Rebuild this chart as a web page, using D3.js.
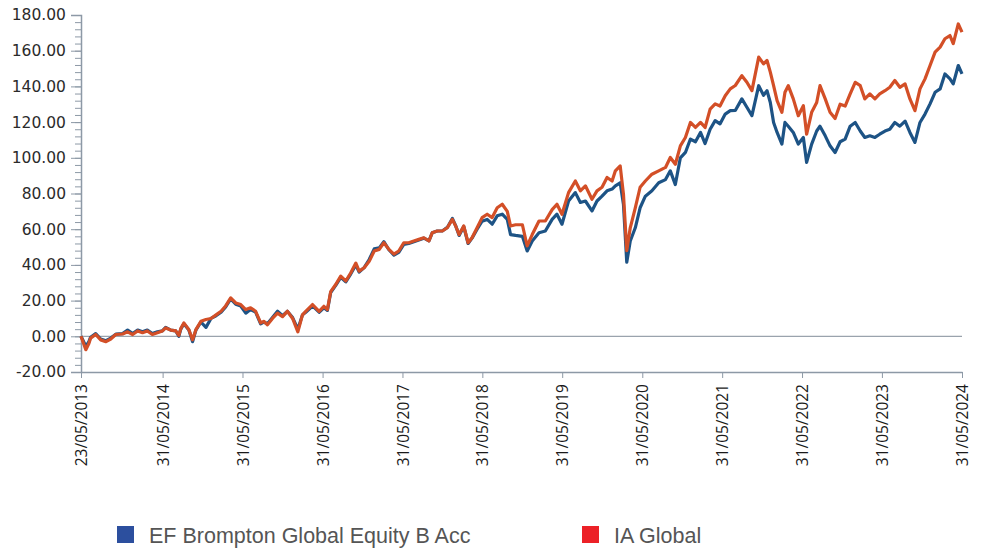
<!DOCTYPE html>
<html>
<head>
<meta charset="utf-8">
<title>EF Brompton Global Equity vs IA Global</title>
<script src="https://cdn.jsdelivr.net/npm/d3@7"></script>
<style>
  body { margin: 0; background: #ffffff; }
  #chart { width: 984px; height: 549px; }
</style>
</head>
<body>
<div id="chart"></div>
<script>
const dates = [
  "2013-05-23", "2013-06-14", "2013-06-28", "2013-07-06", "2013-07-29", "2013-08-21", "2013-09-14", "2013-10-06",
  "2013-10-29", "2013-11-29", "2013-12-22", "2014-01-14", "2014-02-06", "2014-02-28", "2014-03-22", "2014-04-14",
  "2014-05-07", "2014-05-30", "2014-06-14", "2014-07-07", "2014-07-30", "2014-08-13", "2014-08-22", "2014-09-05",
  "2014-09-28", "2014-10-15", "2014-10-30", "2014-11-22", "2014-12-15", "2015-01-07", "2015-01-30", "2015-02-22",
  "2015-03-15", "2015-04-07", "2015-04-30", "2015-05-23", "2015-06-15", "2015-07-07", "2015-07-30", "2015-08-22",
  "2015-09-05", "2015-09-22", "2015-10-15", "2015-11-07", "2015-11-30", "2015-12-22", "2016-01-15", "2016-02-08",
  "2016-02-29", "2016-03-15", "2016-04-15", "2016-05-15", "2016-06-06", "2016-06-22", "2016-07-07", "2016-07-30",
  "2016-08-22", "2016-09-14", "2016-10-07", "2016-10-30", "2016-11-14", "2016-12-07", "2016-12-30", "2017-01-22",
  "2017-02-14", "2017-03-07", "2017-03-30", "2017-04-22", "2017-05-14", "2017-06-06", "2017-06-29", "2017-07-22",
  "2017-08-14", "2017-09-06", "2017-09-29", "2017-10-14", "2017-11-06", "2017-11-29", "2017-12-22", "2018-01-14",
  "2018-01-29", "2018-02-14", "2018-03-07", "2018-03-27", "2018-04-14", "2018-05-07", "2018-05-30", "2018-06-22",
  "2018-07-15", "2018-08-07", "2018-08-30", "2018-09-22", "2018-10-07", "2018-10-30", "2018-11-30", "2018-12-22",
  "2019-01-14", "2019-02-14", "2019-03-15", "2019-04-15", "2019-05-07", "2019-05-30", "2019-06-29", "2019-07-30",
  "2019-08-22", "2019-09-14", "2019-10-14", "2019-11-06", "2019-11-29", "2019-12-22", "2020-01-14", "2020-01-29",
  "2020-02-20", "2020-03-06", "2020-03-21", "2020-04-06", "2020-04-29", "2020-05-21", "2020-06-14", "2020-07-14",
  "2020-08-14", "2020-09-14", "2020-10-06", "2020-10-29", "2020-11-21", "2020-12-14", "2021-01-06", "2021-01-29",
  "2021-02-21", "2021-03-14", "2021-04-06", "2021-04-29", "2021-05-21", "2021-06-14", "2021-07-07", "2021-07-30",
  "2021-08-29", "2021-09-21", "2021-10-14", "2021-11-14", "2021-12-06", "2021-12-22", "2022-01-06", "2022-01-21",
  "2022-02-06", "2022-02-28", "2022-03-14", "2022-03-29", "2022-04-21", "2022-05-14", "2022-06-06", "2022-06-21",
  "2022-07-14", "2022-08-06", "2022-08-21", "2022-09-14", "2022-10-06", "2022-10-29", "2022-11-21", "2022-12-14",
  "2023-01-06", "2023-01-29", "2023-02-21", "2023-03-14", "2023-04-06", "2023-04-29", "2023-05-21", "2023-06-14",
  "2023-07-06", "2023-07-29", "2023-08-21", "2023-09-14", "2023-10-06", "2023-10-29", "2023-11-21", "2023-12-14",
  "2024-01-06", "2024-01-29", "2024-02-21", "2024-03-14", "2024-04-06", "2024-04-21", "2024-05-14", "2024-05-31"
];

// EF Brompton Global Equity B Acc - cumulative % growth
const fundValues = [
  0, -5.6, -3, -0.5, 1.5, -1.5, -2.5, -1,
  1.2, 1.5, 3.5, 1.5, 3.5, 2.5, 3.5, 1.5,
  2.5, 3, 5, 3.5, 3, 0, 4, 7,
  3.5, -3, 3.5, 8, 5, 10, 11.5, 13.5,
  16.5, 21, 18, 17, 13, 15, 13.5, 7,
  8, 7, 10.5, 14, 11.5, 14, 10.5, 4,
  12, 13.5, 17, 13.5, 16, 14.5, 24.5, 28.5,
  33, 30.5, 35, 40, 36, 38.5, 43, 49,
  49.5, 53, 48.5, 45.5, 47, 51.5, 52, 53,
  54, 55, 53.5, 58, 59, 59, 61, 66,
  62, 56.5, 61.5, 52, 55, 60, 64.5, 65.5,
  62.8, 67.5, 68.4, 65.5, 57, 56.5, 56, 47.8,
  53.4, 58, 59, 65.5, 68.4, 62.8, 75.8, 80.5,
  75, 75.8, 70.2, 75.8, 78.5, 81.5, 82.5, 84.3,
  86, 73.8, 41.5, 53.4, 60.8, 72, 78.5, 81.5,
  86, 87.8, 92.7, 85, 100, 103, 110.5, 109,
  114.2, 108, 116, 120.8, 119, 124.5, 126.4, 126.5,
  133, 128.3, 123.6, 140.4, 135, 137.6, 131, 119.8,
  114.2, 107.7, 119.8, 117.7, 114.2, 107.7, 111.4, 97.4,
  107.7, 115, 117.7, 112.3, 106.7, 103, 109, 110.5,
  117.7, 119.8, 115, 111.4, 112.3, 111.4, 113.2, 115,
  116, 119.8, 117.7, 120.5, 114.2, 108.6, 119.8, 124.5,
  130.2, 136.7, 138.6, 147, 144.2, 141.4, 151.7, 147
];

// IA Global sector average - cumulative % growth
const sectorValues = [
  0, -7.5, -4, -1, 1, -2, -3, -1.5,
  1, 1.3, 2.5, 1, 3, 2, 3, 1,
  2, 3, 4.7, 3.5, 3, 0.5, 4.3, 7.5,
  3.7, -2, 3.7, 8.4, 9.4, 10, 12, 14,
  17, 21.5, 18.7, 17.8, 15, 16, 14, 7.5,
  8.4, 6.5, 10, 13, 11, 14, 10, 2.5,
  12, 14, 17.8, 14, 16.8, 15, 25, 29,
  33.7, 31, 35.6, 41, 36.5, 38.4, 42, 47.8,
  48.7, 52.4, 48.7, 46, 47.8, 52.4, 52.4, 53.4,
  54.3, 55.2, 53.4, 58, 59, 59, 60.8, 65.5,
  61.8, 57, 61.8, 52.4, 55.2, 60.8, 66.5, 68.4,
  66.5, 72, 74, 70, 61.8, 62.5, 62.5, 50.6,
  57, 64.6, 64.6, 71, 74, 68.4, 80.5, 87,
  81.5, 84.3, 76.8, 81.5, 83.5, 89, 87, 92.7,
  95.5, 79.5, 48, 60.8, 72, 83.5, 87, 90.8,
  92.7, 94.6, 100.2, 96.4, 106.7, 111.4, 119.8, 117,
  119.8, 117, 127.3, 130.2, 129, 134.8, 138.6, 140.5,
  146, 142.3, 137.6, 156.4, 152.6, 154.5, 148, 140.4,
  132, 125.5, 136.7, 140.4, 133, 123.6, 129.2, 113.2,
  125.5, 131, 140.4, 133, 125.5, 122, 130, 129,
  135.8, 142.3, 140.4, 133, 135.8, 133, 135.8, 137.6,
  139.5, 143.3, 139.5, 141.4, 133, 126.4, 138.6, 144.2,
  151.7, 159.2, 162, 166.7, 168.5, 164, 175, 170.4
];

// Axis ticks
const xTickDates = [
  "2013-05-23", "2014-05-31", "2015-05-31", "2016-05-31", "2017-05-31", "2018-05-31",
  "2019-05-31", "2020-05-31", "2021-05-31", "2022-05-31", "2023-05-31", "2024-05-31"
];
const yTickValues = [-20, 0, 20, 40, 60, 80, 100, 120, 140, 160, 180];

// Series names and colours
const seriesNames = ["EF Brompton Global Equity B Acc", "IA Global"];
const lineColours = ["#1d5385", "#d34f27"];
const legendColours = ["#2c4f9e", "#ec2127"];

/**
 * @function drawChart
 * @description Cumulative performance line chart
 */
function drawChart() {
  const width = 984;
  const height = 549;
  const margin = { top: 15, right: 22, bottom: 177, left: 81 };

  const parseDate = d3.timeParse("%Y-%m-%d");
  const formatDate = d3.timeFormat("%d/%m/%Y");

  const svg = d3
    .select("#chart")
    .append("svg")
    .attr("width", width)
    .attr("height", height)
    .attr("viewBox", `0 0 ${width} ${height}`);

  // Build series
  const series = [fundValues, sectorValues].map((values, i) => ({
    name: seriesNames[i],
    colour: lineColours[i],
    points: dates.map((d, j) => ({ date: parseDate(d), value: values[j] }))
  }));

  // Scales
  const xScale = d3
    .scaleTime()
    .domain([parseDate(xTickDates[0]), parseDate(xTickDates[xTickDates.length - 1])])
    .range([margin.left, width - margin.right]);

  const yScale = d3
    .scaleLinear()
    .domain([-20, 180])
    .range([height - margin.bottom, margin.top]);

  // Minor y ticks (every 4)
  svg
    .append("g")
    .attr("class", "axis minor")
    .attr("transform", `translate(${margin.left}, 0)`)
    .call(d3.axisLeft(yScale).tickValues(d3.range(-20, 181, 4)).tickSize(6).tickFormat(""))
    .call((g) => g.select(".domain").remove())
    .selectAll("line")
    .attr("stroke", "#8d99a6");

  // Y axis
  const yAxis = svg
    .append("g")
    .attr("class", "axis")
    .attr("transform", `translate(${margin.left}, 0)`)
    .call(
      d3
        .axisLeft(yScale)
        .tickValues(yTickValues)
        .tickSize(10)
        .tickPadding(5)
        .tickFormat((d) => d.toFixed(2))
    );

  yAxis.select(".domain").attr("stroke", "#8d99a6").attr("stroke-width", 1.5);
  yAxis.selectAll(".tick line").attr("stroke", "#8d99a6");
  yAxis
    .selectAll("text")
    .attr("fill", "#2b2b2b")
    .style("font-family", "'DejaVu Sans', Verdana, sans-serif")
    .style("font-size", "15.5px");

  // X axis
  const xAxis = svg
    .append("g")
    .attr("class", "axis")
    .attr("transform", `translate(0, ${height - margin.bottom})`)
    .call(
      d3
        .axisBottom(xScale)
        .tickValues(xTickDates.map(parseDate))
        .tickSize(6)
        .tickSizeOuter(0)
        .tickFormat(formatDate)
    );

  xAxis.select(".domain").attr("stroke", "#8d99a6").attr("stroke-width", 1.5);
  xAxis.selectAll(".tick line").attr("stroke", "#8d99a6");
  xAxis
    .selectAll("text")
    .attr("transform", "rotate(-90)")
    .attr("x", -12)
    .attr("y", 0)
    .attr("dy", "0.36em")
    .style("text-anchor", "end")
    .attr("fill", "#1a1a1a")
    .style("font-family", "'Open Sans', sans-serif")
    .style("font-size", "15.5px");

  // Zero line
  svg
    .append("line")
    .attr("x1", margin.left)
    .attr("x2", width - margin.right)
    .attr("y1", yScale(0))
    .attr("y2", yScale(0))
    .attr("stroke", "#9aa3ad")
    .attr("stroke-width", 1.2);

  // Lines
  const line = d3
    .line()
    .x((d) => xScale(d.date))
    .y((d) => yScale(d.value));

  svg
    .selectAll(".series")
    .data(series)
    .enter()
    .append("path")
    .attr("class", "series")
    .attr("d", (d) => line(d.points))
    .attr("fill", "none")
    .attr("stroke", (d) => d.colour)
    .attr("stroke-width", 3.2)
    .attr("stroke-linejoin", "round");

  // Legend
  const legendX = [117, 582];
  const legend = svg
    .selectAll(".legend")
    .data(seriesNames)
    .enter()
    .append("g")
    .attr("class", "legend")
    .attr("transform", (d, i) => `translate(${legendX[i]}, 526)`);

  legend
    .append("rect")
    .attr("width", 17)
    .attr("height", 17)
    .attr("fill", (d, i) => legendColours[i]);

  legend
    .append("text")
    .attr("x", 32)
    .attr("y", 17)
    .attr("fill", "#555555")
    .style("font-family", "'Liberation Sans', Arial, sans-serif")
    .style("font-size", "21.5px")
    .text((d) => d);
}

drawChart();
</script>
</body>
</html>
